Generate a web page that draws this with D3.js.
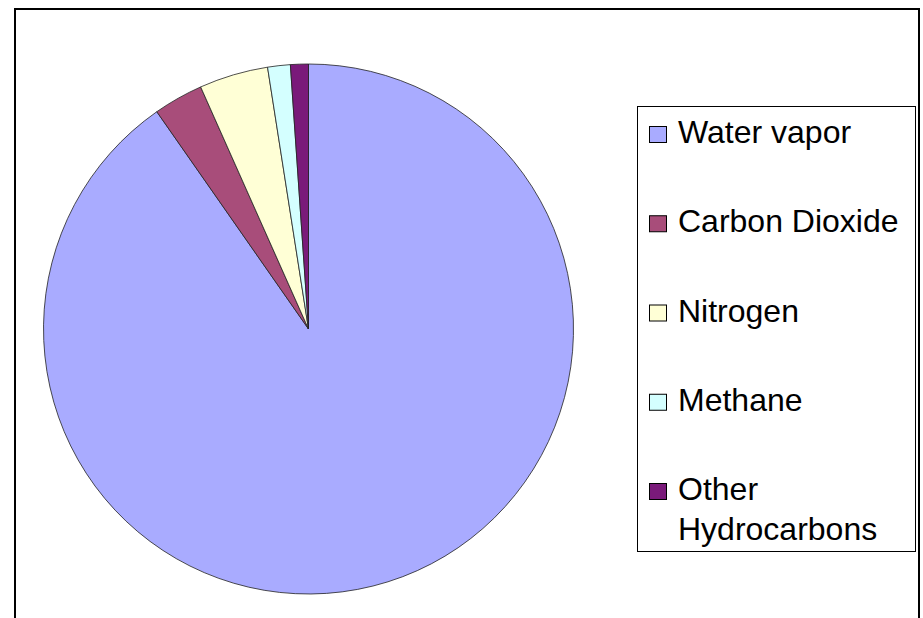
<!DOCTYPE html>
<html>
<head>
<meta charset="utf-8">
<script src="https://cdn.jsdelivr.net/npm/d3@7"></script>
<style>
  body { margin: 0; background: #fff; }
  svg { display: block; font-family: "Liberation Sans", Arial, sans-serif; }
</style>
</head>
<body>
<div id="chart"></div>
<script>
// gas shares (percent)
var gases = ["Water vapor", "Carbon Dioxide", "Nitrogen", "Methane", "Other Hydrocarbons"];
var shares = [90.3, 3.03, 4.2, 1.38, 1.09];
var colors = ["#a9abff", "#a84d7a", "#ffffd6", "#d4ffff", "#7a1a7a"];

var width = 923, height = 618;
var svg = d3.select("#chart").append("svg")
    .attr("width", width)
    .attr("height", height);

// outer chart frame (bottom runs off the picture)
svg.append("rect")
    .attr("x", 15).attr("y", 9)
    .attr("width", 904).attr("height", 640)
    .attr("fill", "none")
    .attr("stroke", "#000")
    .attr("stroke-width", 2);

var data = gases.map(function (g, i) { return { name: g, value: shares[i], color: colors[i] }; });

var pie = d3.pie().sort(null).value(function (d) { return d.value; });
var arc = d3.arc().innerRadius(0).outerRadius(265);

var g = svg.append("g").attr("transform", "translate(308.5,329)");
g.selectAll("path")
    .data(pie(data))
    .enter().append("path")
    .attr("d", arc)
    .attr("fill", function (d) { return d.data.color; })
    .attr("stroke", "#222")
    .attr("stroke-width", 0.8)
    .attr("stroke-linejoin", "round");

// legend
svg.append("rect")
    .attr("x", 637.5).attr("y", 106.5)
    .attr("width", 278).attr("height", 445)
    .attr("fill", "#fff")
    .attr("stroke", "#000")
    .attr("stroke-width", 1);

var y = d3.scalePoint().domain(gases).range([143, 500]);

var items = svg.selectAll(".item")
    .data(data)
    .enter().append("g")
    .attr("class", "item")
    .attr("transform", function (d) { return "translate(0," + y(d.name) + ")"; });

items.append("rect")
    .attr("x", 649.5).attr("y", -16.5)
    .attr("width", 17).attr("height", 16)
    .attr("fill", function (d) { return d.color; })
    .attr("stroke", "#000")
    .attr("stroke-width", 1);

items.each(function (d) {
  var words = d.name === "Other Hydrocarbons" ? ["Other", "Hydrocarbons"] : [d.name];
  var t = d3.select(this).append("text")
      .attr("x", 678)
      .attr("font-size", "32px")
      .attr("fill", "#000");
  words.forEach(function (w, i) {
    t.append("tspan").attr("x", 678).attr("dy", i === 0 ? 0 : 40).text(w);
  });
});
</script>
</body>
</html>
